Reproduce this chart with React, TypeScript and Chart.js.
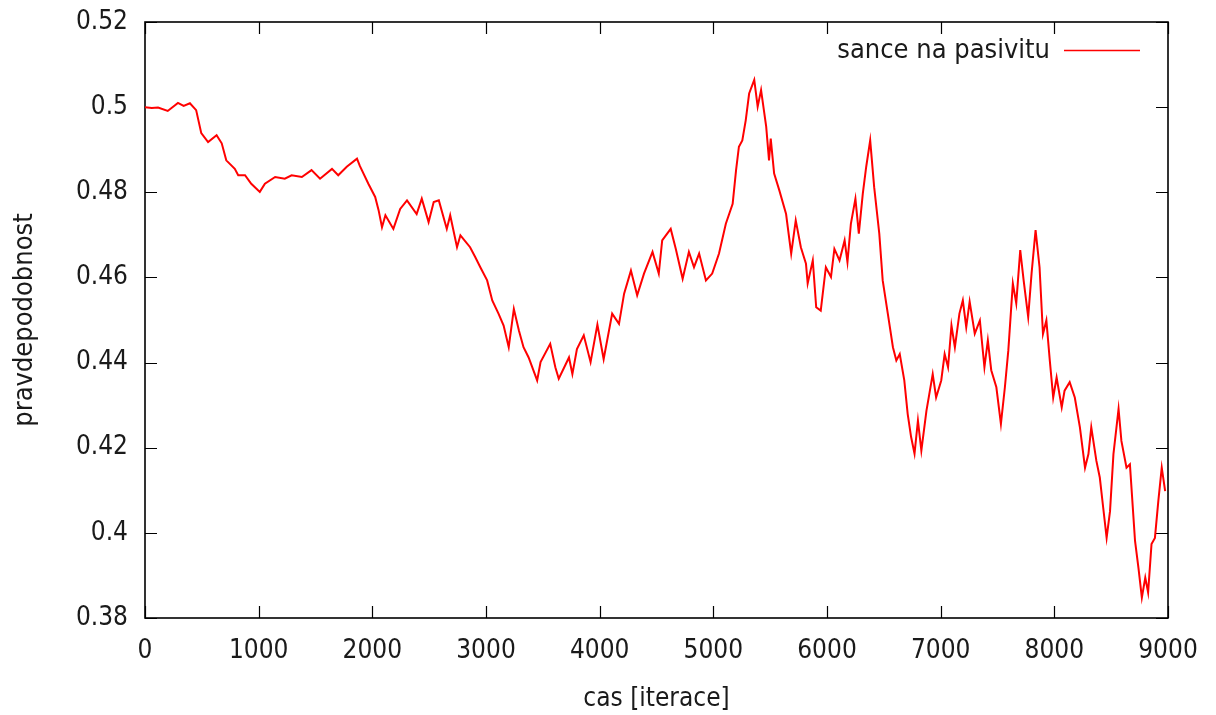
import React, { useEffect, useRef } from "react";
import { Chart, registerables } from "chart.js";

Chart.register(...registerables);

const iterations = [
  0, 60, 115, 200, 290, 340, 395, 450, 495, 555, 630, 675, 715, 790, 820, 880, 935, 1010, 1055, 1145,
  1230, 1290, 1380, 1465, 1540, 1645, 1700, 1775, 1865, 1890, 1965, 2025, 2055, 2085, 2115, 2185, 2245, 2305, 2390, 2435,
  2495, 2540, 2585, 2655, 2685, 2745, 2775, 2860, 2905, 2950, 3010, 3055, 3110, 3155, 3200, 3245, 3290, 3330, 3375, 3450,
  3480, 3565, 3610, 3640, 3730, 3760, 3800, 3860, 3920, 3980, 4035, 4110, 4170, 4215, 4275, 4330, 4390, 4465, 4520, 4550,
  4625, 4670, 4730, 4785, 4830, 4875, 4935, 4990, 5050, 5110, 5170, 5200, 5225, 5255, 5285, 5315, 5360, 5390, 5420, 5465,
  5490, 5505, 5535, 5580, 5640, 5685, 5725, 5770, 5815, 5830, 5875, 5905, 5945, 5990, 6035, 6065, 6110, 6155, 6180, 6210,
  6250, 6280, 6315, 6345, 6380, 6415, 6460, 6490, 6535, 6580, 6610, 6640, 6680, 6710, 6740, 6770, 6800, 6830, 6875, 6900,
  6930, 6960, 7005, 7035, 7065, 7095, 7125, 7165, 7195, 7225, 7255, 7300, 7345, 7385, 7415, 7445, 7490, 7530, 7565, 7595,
  7635, 7665, 7700, 7730, 7770, 7800, 7835, 7870, 7900, 7930, 7960, 7990, 8020, 8065, 8090, 8135, 8180, 8225, 8270, 8300,
  8325, 8370, 8400, 8430, 8460, 8490, 8520, 8565, 8590, 8635, 8665, 8710, 8740, 8770, 8800, 8825, 8855, 8885, 8915, 8945,
  8975,
];

const probabilities = [
  0.5, 0.4998, 0.4999, 0.4991, 0.501, 0.5003, 0.5009, 0.4993, 0.4939, 0.4918, 0.4934, 0.4915, 0.4875, 0.4855, 0.484, 0.484, 0.482, 0.4801, 0.482, 0.4836,
  0.4832, 0.484, 0.4836, 0.4852, 0.4832, 0.4855, 0.484, 0.486, 0.4879, 0.4862, 0.482, 0.4789, 0.4758, 0.4718, 0.4746, 0.4714, 0.4761, 0.4781, 0.4749, 0.4785,
  0.473, 0.4777, 0.4781, 0.4714, 0.4746, 0.4671, 0.4699, 0.4671, 0.4648, 0.4624, 0.4593, 0.4546, 0.4515, 0.4487, 0.4436, 0.4526, 0.4475, 0.4436, 0.4412, 0.4358,
  0.4401, 0.4444, 0.4389, 0.4362, 0.4412, 0.4373, 0.4432, 0.4464, 0.4401, 0.4489, 0.4408, 0.4515, 0.4491, 0.4562, 0.4616, 0.4558, 0.4609, 0.466, 0.4609, 0.4687,
  0.4714, 0.4667, 0.4597, 0.466, 0.4624, 0.4656, 0.4593, 0.4609, 0.4656, 0.4726, 0.4773, 0.4852, 0.4907, 0.4922, 0.4969, 0.5032, 0.5064, 0.5001, 0.504, 0.4954,
  0.4875, 0.4926, 0.4844, 0.4805, 0.4749, 0.4656, 0.4734, 0.4671, 0.4632, 0.4586, 0.464, 0.453, 0.4522, 0.4624, 0.4601, 0.4667, 0.464, 0.4687, 0.4636, 0.4726,
  0.4785, 0.4703, 0.4797, 0.486, 0.4922, 0.4812, 0.4703, 0.4593, 0.4515, 0.4436, 0.4405, 0.442, 0.4358, 0.4279, 0.4225, 0.4186, 0.4264, 0.4193, 0.4287, 0.4326,
  0.4373, 0.4318, 0.4358, 0.442, 0.4389, 0.4487, 0.4436, 0.4515, 0.4546, 0.4483, 0.4543, 0.4468, 0.4499, 0.4389, 0.4452, 0.4382, 0.4342, 0.4256, 0.4342, 0.4428,
  0.4586, 0.4539, 0.4664, 0.4593, 0.4507, 0.461, 0.4711, 0.4624, 0.4467, 0.4499, 0.4405, 0.4318, 0.4365, 0.4295, 0.4334, 0.4354, 0.4318, 0.4248, 0.4153, 0.4185,
  0.4248, 0.4169, 0.413, 0.4059, 0.3988, 0.4051, 0.4185, 0.4291, 0.4216, 0.4153, 0.4161, 0.3981, 0.3918, 0.3848, 0.3895, 0.386, 0.3974, 0.3988, 0.4075, 0.4153,
  0.4098,
];

const xTicks = [0, 1000, 2000, 3000, 4000, 5000, 6000, 7000, 8000, 9000];
const yTicks = [0.38, 0.4, 0.42, 0.44, 0.46, 0.48, 0.5, 0.52];

const seriesLabel = "sance na pasivitu";
const xTitle = "cas [iterace]";
const yTitle = "pravdepodobnost";

const FONT = "'DejaVu Sans Condensed', 'DejaVu Sans', sans-serif";
const TEXT_COLOR = "#1a1a1a";
const LINE_COLOR = "#ff0000";

const framePlugin = {
  id: "gnuplotFrame",
  beforeDatasetsDraw(chart: any) {
    const { ctx, chartArea, scales } = chart;
    const { left, right, top, bottom } = chartArea;
    const L = 12;
    ctx.save();
    ctx.strokeStyle = "#000";
    ctx.lineWidth = 1.2;
    ctx.beginPath();
    xTicks.forEach((v) => {
      const px = Math.round(scales.x.getPixelForValue(v)) + 0.5;
      ctx.moveTo(px, bottom);
      ctx.lineTo(px, bottom - L);
      ctx.moveTo(px, top);
      ctx.lineTo(px, top + L);
    });
    yTicks.forEach((v) => {
      const py = Math.round(scales.y.getPixelForValue(v)) + 0.5;
      ctx.moveTo(left, py);
      ctx.lineTo(left + L, py);
      ctx.moveTo(right, py);
      ctx.lineTo(right - L, py);
    });
    ctx.stroke();
    ctx.lineWidth = 1.6;
    ctx.strokeRect(left, top, right - left, bottom - top);
    ctx.restore();
  },
  afterDraw(chart: any) {
    const { ctx } = chart;
    ctx.save();
    ctx.font = `27px ${FONT}`;
    ctx.fillStyle = TEXT_COLOR;
    ctx.textAlign = "right";
    ctx.textBaseline = "alphabetic";
    ctx.fillText(seriesLabel, 1050, 58);
    ctx.strokeStyle = LINE_COLOR;
    ctx.lineWidth = 1.5;
    ctx.beginPath();
    ctx.moveTo(1064, 50.5);
    ctx.lineTo(1140, 50.5);
    ctx.stroke();
    ctx.restore();
  },
};

export default function App() {
  const canvasRef = useRef<HTMLCanvasElement | null>(null);

  useEffect(() => {
    if (!canvasRef.current) return;
    const data = iterations.map((it, i) => ({ x: it, y: probabilities[i] }));
    const chart = new Chart(canvasRef.current, {
      type: "line",
      data: {
        datasets: [
          {
            label: seriesLabel,
            data,
            borderColor: LINE_COLOR,
            borderWidth: 2,
            pointRadius: 0,
            tension: 0,
            fill: false,
          },
        ],
      },
      options: {
        animation: false,
        responsive: true,
        maintainAspectRatio: false,
        layout: { padding: { top: 22, right: 48, left: 0, bottom: 0 } },
        plugins: {
          legend: { display: false },
          tooltip: { enabled: false },
        },
        scales: {
          x: {
            type: "linear",
            min: 0,
            max: 9000,
            afterBuildTicks: (s: any) => {
              s.ticks = xTicks.map((v) => ({ value: v }));
            },
            afterFit: (s: any) => {
              s.height = 97;
              s.paddingLeft = 0;
              s.paddingRight = 0;
            },
            grid: { display: false, drawTicks: false },
            border: { display: false },
            ticks: {
              color: TEXT_COLOR,
              font: { family: FONT, size: 26 },
              padding: 18,
              maxRotation: 0,
              autoSkip: false,
              callback: (v: any) => String(v),
            },
            title: {
              display: true,
              text: xTitle,
              color: TEXT_COLOR,
              font: { family: FONT, size: 26 },
              padding: { top: 0, bottom: 0 },
            },
          },
          y: {
            type: "linear",
            min: 0.38,
            max: 0.52,
            afterBuildTicks: (s: any) => {
              s.ticks = yTicks.map((v) => ({ value: v }));
            },
            afterFit: (s: any) => {
              s.width = 145;
              s.paddingTop = 0;
              s.paddingBottom = 0;
            },
            grid: { display: false, drawTicks: false },
            border: { display: false },
            ticks: {
              color: TEXT_COLOR,
              font: { family: FONT, size: 26 },
              padding: 17,
              autoSkip: false,
              callback: (v: any) => String(Number(Number(v).toFixed(2))),
            },
            title: {
              display: true,
              text: yTitle,
              color: TEXT_COLOR,
              font: { family: FONT, size: 27 },
              padding: { top: 9, bottom: 0 },
            },
          },
        },
      },
      plugins: [framePlugin],
    });
    return () => chart.destroy();
  }, []);

  return (
    <div style={{ position: "fixed", left: 0, top: 0, width: 1216, height: 715, background: "#fff" }}>
      <canvas ref={canvasRef} />
    </div>
  );
}
